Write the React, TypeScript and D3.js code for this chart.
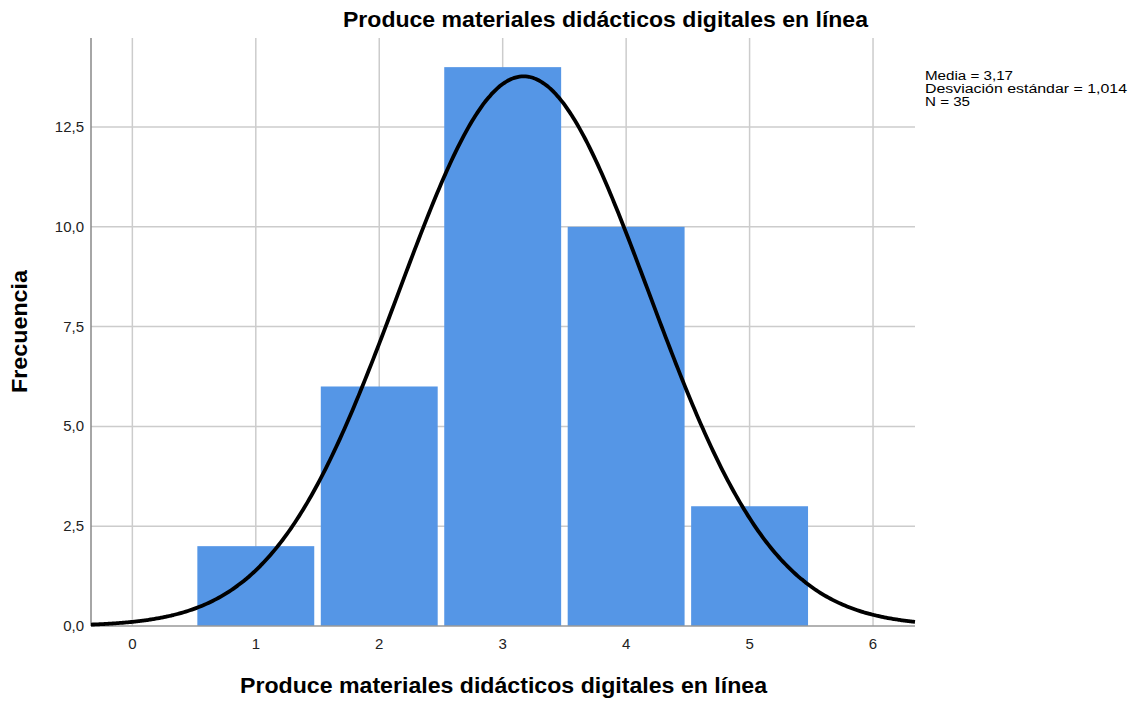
import React from "react";
import * as d3 from "d3";

const categories = [1, 2, 3, 4, 5];
const frequencies = [2, 6, 14, 10, 3];
const xTicks = [0, 1, 2, 3, 4, 5, 6];
const yTicks = [0, 2.5, 5, 7.5, 10, 12.5];
const stats = ["Media = 3,17", "Desviación estándar = 1,014", "N = 35"];
const statWidths = [88, 202, 45];
const mean = 3.17;
const sd = 1.014;
const n = 35;

const W = 1133, H = 701;
const left = 91, right = 915, top = 38, bottom = 626;

export default function App() {
  const x = d3.scaleLinear().domain([-0.335, 6.34]).range([left, right]);
  const y = d3.scaleLinear().domain([0, 14.73]).range([bottom, top]);
  const fmt = (v: number) => v.toFixed(1).replace(".", ",");
  const pts = d3.range(0, 401).map((i) => {
    const xv = -0.335 + (i / 400) * (6.34 + 0.335);
    const yv = (n / (sd * Math.sqrt(2 * Math.PI))) * Math.exp(-0.5 * ((xv - mean) / sd) ** 2);
    return [xv, yv] as [number, number];
  });
  const line = d3.line<[number, number]>().x((d) => x(d[0])).y((d) => y(d[1])).curve(d3.curveBasis);
  const unit = x(1) - x(0);
  const barW = unit * 0.947;
  return (
    <svg width={W} height={H} style={{ position: "absolute", left: 0, top: 0, fontFamily: "Arial, 'Liberation Sans', sans-serif" }}>
      <rect width={W} height={H} fill="#fff" />
      <text x={343} y={27} fontWeight="bold" fontSize={22} fill="#000" textLength={525} lengthAdjust="spacingAndGlyphs">
        Produce materiales didácticos digitales en línea
      </text>
      {xTicks.map((t) => (
        <line key={"gx" + t} x1={x(t)} x2={x(t)} y1={top} y2={bottom} stroke="#cccccc" strokeWidth={1.5} />
      ))}
      {yTicks.filter((t) => t > 0).map((t) => (
        <line key={"gy" + t} x1={left} x2={right} y1={y(t)} y2={y(t)} stroke="#cccccc" strokeWidth={1.5} />
      ))}
      {categories.map((c, i) => (
        <rect key={c} x={x(c) - barW / 2} y={y(frequencies[i])} width={barW} height={bottom - y(frequencies[i])} fill="#5596e6" />
      ))}
      <line x1={left} x2={right} y1={bottom} y2={bottom} stroke="#999" strokeWidth={1.5} />
      <line x1={left} x2={left} y1={top} y2={bottom} stroke="#888" strokeWidth={1.5} />
      <path d={line(pts) || ""} fill="none" stroke="#000" strokeWidth={3.8} />
      {yTicks.map((t) => (
        <text key={"yl" + t} x={left - 7} y={y(t) + 5} textAnchor="end" fontSize={15} fill="#222">
          {fmt(t)}
        </text>
      ))}
      {xTicks.map((t) => (
        <text key={"xl" + t} x={x(t)} y={649} textAnchor="middle" fontSize={15} fill="#222">
          {t}
        </text>
      ))}
      <text x={240} y={693} fontWeight="bold" fontSize={22} fill="#000" textLength={527} lengthAdjust="spacingAndGlyphs">
        Produce materiales didácticos digitales en línea
      </text>
      <text transform={`translate(27,393) rotate(-90)`} fontWeight="bold" fontSize={22} fill="#000" textLength={123} lengthAdjust="spacingAndGlyphs">
        Frecuencia
      </text>
      {stats.map((s, i) => (
        <text key={s} x={925} y={80 + i * 13} fontSize={12.5} fill="#000" textLength={statWidths[i]} lengthAdjust="spacingAndGlyphs">
          {s}
        </text>
      ))}
    </svg>
  );
}
